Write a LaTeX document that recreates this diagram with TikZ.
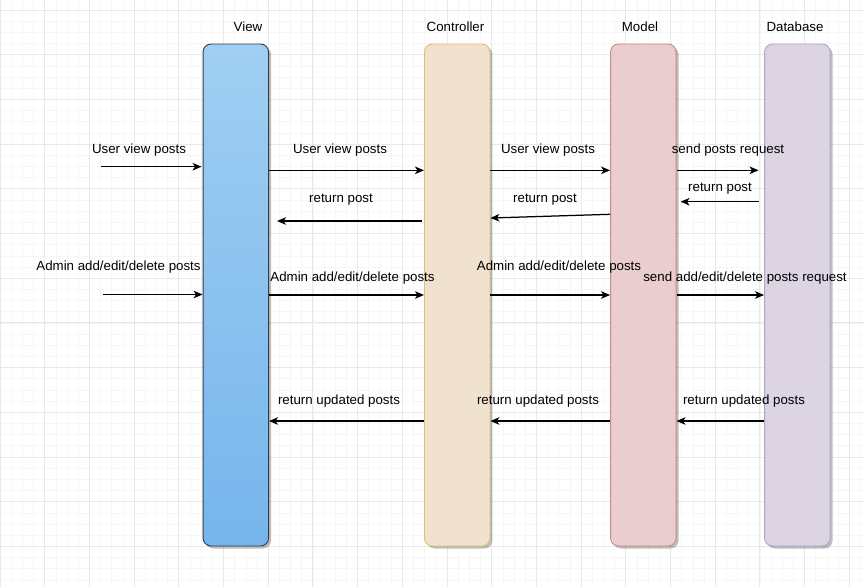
\documentclass[tikz,border=0pt]{standalone}
\usepackage{fontspec}
\setmainfont{Liberation Sans}
\usetikzlibrary{arrows.meta,shadows,calc}
\definecolor{viewTop}{RGB}{160,207,242}
\definecolor{viewBot}{RGB}{118,181,236}
\definecolor{viewDraw}{RGB}{54,60,68}
\definecolor{ctrlFill}{RGB}{241,225,207}
\definecolor{ctrlDraw}{RGB}{224,192,112}
\definecolor{modelFill}{RGB}{234,205,206}
\definecolor{modelDraw}{RGB}{200,138,136}
\definecolor{dbFill}{RGB}{220,212,227}
\definecolor{dbDraw}{RGB}{180,162,200}
\definecolor{minorGrid}{RGB}{246,246,246}
\definecolor{majorGrid}{RGB}{232,232,232}
\tikzset{
  lifeline/.style={rounded corners=8pt, minimum width=65.5pt, minimum height=502pt,
    inner sep=0pt, line width=0.9pt,
    drop shadow={shadow xshift=2.5pt, shadow yshift=-2.5pt, opacity=0.25, fill=black}},
  msg/.style={line width=1.25pt, -{Stealth[length=9pt,width=7.5pt,inset=2.4pt]}},
  lbl/.style={inner sep=0pt, font=\fontsize{13.3}{16}\selectfont},
  minorline/.style={minorGrid, line width=0.7pt},
  majorline/.style={majorGrid, line width=0.9pt}
}
\begin{document}
\begin{tikzpicture}[x=1pt,y=-1pt]
\useasboundingbox (0,0) rectangle (864,587);
\fill[white] (0,0) rectangle (864,587);
% grid
\foreach \i in {0,...,78} {\draw[minorline] (\i*11.175,0) -- (\i*11.175,587);}
\foreach \j in {-1,...,52} {\draw[minorline] (0,10+\j*11.175) -- (864,10+\j*11.175);}
\foreach \i in {0,...,19} {\draw[majorline] (\i*44.7,0) -- (\i*44.7,587);}
\foreach \j in {0,...,13} {\draw[majorline] (0,10+\j*44.7) -- (864,10+\j*44.7);}

% lifelines
\node[lifeline, draw=viewDraw, top color=viewTop, bottom color=viewBot] (view) at (235.8,295) {};
\node[lifeline, draw=ctrlDraw, fill=ctrlFill] (ctrl) at (457.2,295) {};
\node[lifeline, draw=modelDraw, fill=modelFill] (model) at (643.3,295) {};
\node[lifeline, draw=dbDraw, fill=dbFill] (db) at (797.3,295) {};

% titles
\node[lbl] (tview) at (248,27) {View};
\node[lbl] (tctrl) at (455.5,27) {Controller};
\node[lbl] (tmodel) at (640,27) {Model};
\node[lbl] (tdb) at (795,27) {Database};

% row coordinates
\coordinate (r1) at (0,170.3);
\coordinate (r1e) at (101,166.7);
\coordinate (r2a) at (0,201.7);
\coordinate (r2b) at (0,214.3);
\coordinate (r2c) at (0,218);
\coordinate (r2d) at (0,221);
\coordinate (r3) at (0,295);
\coordinate (r3e) at (103,294.5);
\coordinate (r4) at (0,421);

% row 1
\draw[msg] (r1e) -- ([xshift=-1pt]view.west |- r1e);
\draw[msg] (view.east |- r1) -- (ctrl.west |- r1);
\draw[msg] (ctrl.east |- r1) -- (model.west |- r1);
\draw[msg] (model.east |- r1) -- ([xshift=-5.5pt]db.west |- r1);
\node[lbl] (l1a) at (139,150) {User view posts};
\node[lbl] (l1b) at (340,150) {User view posts};
\node[lbl] (l1c) at (548,150) {User view posts};
\node[lbl] (l1d) at (728,150) {send posts request};

% row 2
\draw[msg] ([xshift=-5.5pt]db.west |- r2a) -- ([xshift=4pt]model.east |- r2a);
\draw[msg] (model.west |- r2b) -- (ctrl.east |- r2c);
\draw[msg] ([xshift=-2pt]ctrl.west |- r2d) -- ([xshift=8pt]view.east |- r2d);
\node[lbl] (l2a) at (720,188.5) {return post};
\node[lbl] (l2b) at (545,200) {return post};
\node[lbl] (l2c) at (341,200) {return post};

% row 3
\draw[msg] (r3e) -- (view.west |- r3e);
\draw[msg] (view.east |- r3) -- (ctrl.west |- r3);
\draw[msg] (ctrl.east |- r3) -- (model.west |- r3);
\draw[msg] (model.east |- r3) -- (db.west |- r3);
\node[lbl] (l3a) at (118.5,267) {Admin add/edit/delete posts};
\node[lbl] (l3b) at (352.5,278) {Admin add/edit/delete posts};
\node[lbl] (l3c) at (559,267) {Admin add/edit/delete posts};
\node[lbl] (l3d) at (745,278) {send add/edit/delete posts request};

% row 4
\draw[msg] (db.west |- r4) -- (model.east |- r4);
\draw[msg] (model.west |- r4) -- (ctrl.east |- r4);
\draw[msg] (ctrl.west |- r4) -- (view.east |- r4);
\node[lbl] (l4a) at (744,401) {return updated posts};
\node[lbl] (l4b) at (538,401) {return updated posts};
\node[lbl] (l4c) at (339,401) {return updated posts};
\end{tikzpicture}
\end{document}
